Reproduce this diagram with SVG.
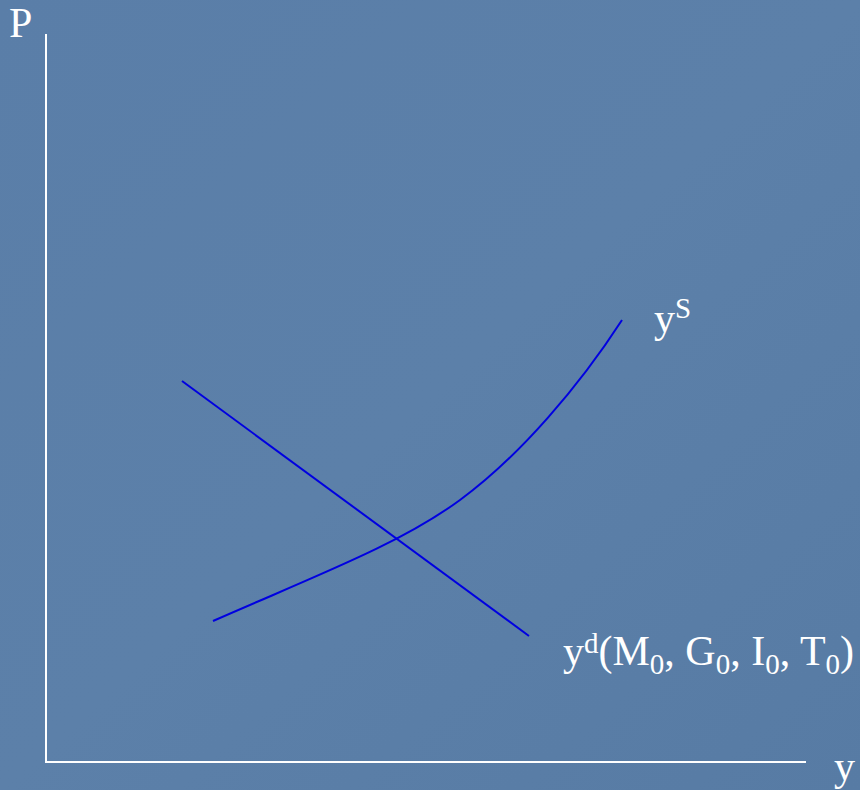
<svg xmlns="http://www.w3.org/2000/svg" width="860" height="790" viewBox="0 0 860 790">
<style>
.t{font-family:"Liberation Serif",serif;fill:#ffffff;font-size:42px}
.s{font-size:29px}
.axis{stroke:#ffffff;stroke-width:2;fill:none}
.curve{stroke:#0000e0;stroke-width:2;fill:none}
</style>
<defs>
<linearGradient id="bg" x1="0" y1="0" x2="1" y2="1">
<stop offset="0" stop-color="#5a7ea8"/>
<stop offset="0.5" stop-color="#5c80a9"/>
<stop offset="1" stop-color="#577ba4"/>
</linearGradient>
</defs>
<rect width="860" height="790" fill="url(#bg)"/>
<g id="axes">
<line class="axis" x1="46" y1="34" x2="46" y2="763"/>
<line class="axis" x1="45" y1="762" x2="806" y2="762"/>
</g>
<g id="connectors">
<line id="demand" class="curve" x1="182" y1="381" x2="529" y2="636"/>
<path id="supply" class="curve" d="M213,621 C320,574 400,544 460,500 S580,385 622,320"/>
</g>
<g id="label-P"><text class="t" x="9" y="37">P</text></g>
<g id="label-y"><text class="t" x="834" y="780">y</text></g>
<g id="label-ys"><text class="t" x="654" y="332">y<tspan class="s" dy="-14">S</tspan></text></g>
<g id="label-yd"><text class="t" x="563" y="665">y<tspan class="s" dy="-12">d</tspan><tspan dy="12">(M</tspan><tspan class="s" dy="9">0</tspan><tspan dy="-9">, G</tspan><tspan class="s" dy="9">0</tspan><tspan dy="-9">, I</tspan><tspan class="s" dy="9">0</tspan><tspan dy="-9">, T</tspan><tspan class="s" dy="9">0</tspan><tspan dy="-9">)</tspan></text></g>
</svg>
